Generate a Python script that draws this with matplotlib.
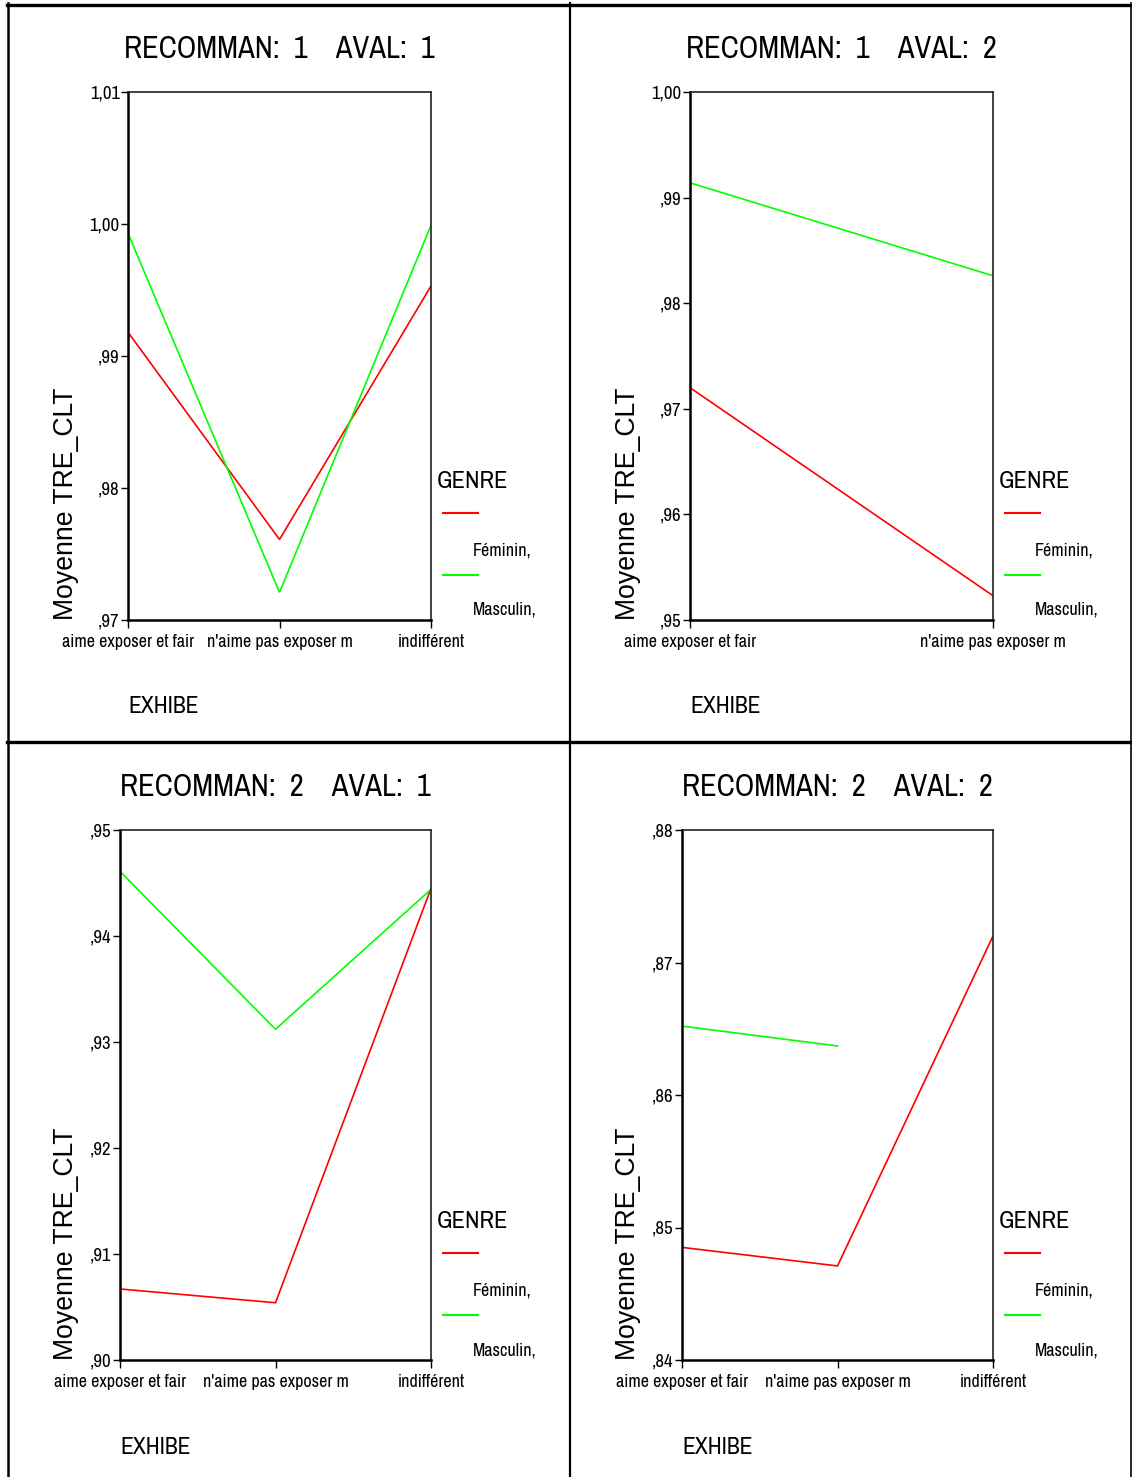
import numpy as np
import matplotlib
matplotlib.use("Agg")
import matplotlib.pyplot as plt
from matplotlib.lines import Line2D

W, H = 1132, 1477
NARROW = ["Liberation Sans Narrow", "Archivo Narrow", "DejaVu Sans"]
REGULAR = ["Liberation Sans", "DejaVu Sans"]

# data (means of TRE_CLT by EXHIBE and GENRE)
cats = ["aime exposer et fair", "n'aime pas exposer m", "indifférent"]
genres = ["Féminin,", "Masculin,"]

fem_r1_a1 = [0.9918, 0.9761, 0.9953]
mas_r1_a1 = [0.9993, 0.9721, 0.9999]
fem_r1_a2 = [0.9720, 0.9523]
mas_r1_a2 = [0.9914, 0.9826]
fem_r2_a1 = [0.9067, 0.9054, 0.9445]
mas_r2_a1 = [0.9461, 0.9312, 0.9444]
fem_r2_a2 = [0.8485, 0.8471, 0.8720]
mas_r2_a2 = [0.8652, 0.8637, np.nan]

yticks_r1_a1 = [0.97, 0.98, 0.99, 1.00, 1.01]
yticks_r1_a2 = [0.95, 0.96, 0.97, 0.98, 0.99, 1.00]
yticks_r2_a1 = [0.90, 0.91, 0.92, 0.93, 0.94, 0.95]
yticks_r2_a2 = [0.84, 0.85, 0.86, 0.87, 0.88]

RED = "#ff0000"
GREEN = "#00ff00"


def spss_fmt(v):
    s = f"{v:.2f}".replace(".", ",")
    if s.startswith("0"):
        s = s[1:]
    return s


def fx(x):
    return x / W


def fy(y):
    return 1 - y / H


fig = plt.figure(figsize=(W / 100, H / 100), dpi=100, facecolor="white")

# panel frame lines
def hline(y, x0, x1, lw):
    fig.add_artist(Line2D([fx(x0), fx(x1)], [fy(y), fy(y)], color="black", lw=lw))


def vline(x, y0, y1, lw):
    fig.add_artist(Line2D([fx(x), fx(x)], [fy(y0), fy(y1)], color="black", lw=lw))


hline(4.5, 7, 1132, 2.4)
hline(742, 7, 1132, 2.4)
vline(8, 3, 1477, 1.8)
vline(570, 3, 1477, 1.6)
vline(1130.5, 3, 1477, 1.2)

panels = [
    # (origin x, L, T, R, B, title, fem, mas, yticks)
    (8, 128, 92, 431, 620, "RECOMMAN:  1    AVAL:  1", fem_r1_a1, mas_r1_a1, yticks_r1_a1),
    (570, 690, 92, 993, 620, "RECOMMAN:  1    AVAL:  2", fem_r1_a2, mas_r1_a2, yticks_r1_a2),
    (8, 120, 830, 431, 1360, "RECOMMAN:  2    AVAL:  1", fem_r2_a1, mas_r2_a1, yticks_r2_a1),
    (570, 682, 830, 993, 1360, "RECOMMAN:  2    AVAL:  2", fem_r2_a2, mas_r2_a2, yticks_r2_a2),
]

for ox, L, T, R, B, title, fem, mas, yt in panels:
    ax = fig.add_axes([fx(L), fy(B), fx(R - L), (B - T) / H])
    n = len(fem)
    xs = np.arange(n)
    ax.plot(xs, fem, color=RED, lw=1.2, solid_joinstyle="miter")
    ax.plot(xs, mas, color=GREEN, lw=1.2, solid_joinstyle="miter")
    ax.set_xlim(0, n - 1)
    ax.set_ylim(yt[0], yt[-1])
    ax.set_yticks(yt)
    ax.set_yticklabels([spss_fmt(v) for v in yt], family=NARROW, fontsize=13.5)
    ax.set_xticks(xs)
    ax.set_xticklabels(cats[:n], family=NARROW, fontsize=13)
    ax.tick_params(axis="y", direction="out", length=5, width=1, pad=1)
    ax.tick_params(axis="x", direction="out", length=6, width=1, pad=4)
    for side in ["left", "bottom"]:
        ax.spines[side].set_linewidth(1.8)
    for side in ["top", "right"]:
        ax.spines[side].set_linewidth(1.2)
        ax.spines[side].set_color("#222222")

    cx = (L + R) / 2
    fig.text(fx(cx), fy(T - 43), title, family=NARROW, fontsize=22,
             ha="center", va="center")
    fig.text(fx(ox + 58), fy(B), "Moyenne TRE_CLT", family=REGULAR, fontsize=19.2,
             rotation=90, ha="center", va="bottom")
    fig.text(fx(L), fy(B + 87), "EXHIBE", family=NARROW, fontsize=17,
             ha="left", va="center")

    # legend
    fig.text(fx(R + 6), fy(B - 139), "GENRE", family=NARROW, fontsize=17.5,
             ha="left", va="center")
    fig.add_artist(Line2D([fx(R + 12), fx(R + 47)], [fy(B - 107), fy(B - 107)],
                          color=RED, lw=1.5))
    fig.text(fx(R + 42), fy(B - 69), genres[0], family=NARROW, fontsize=13,
             ha="left", va="center")
    fig.add_artist(Line2D([fx(R + 12), fx(R + 47)], [fy(B - 45), fy(B - 45)],
                          color=GREEN, lw=1.5))
    fig.text(fx(R + 42), fy(B - 10), genres[1], family=NARROW, fontsize=13,
             ha="left", va="center")

fig.savefig("out.png", dpi=100, facecolor="white")
